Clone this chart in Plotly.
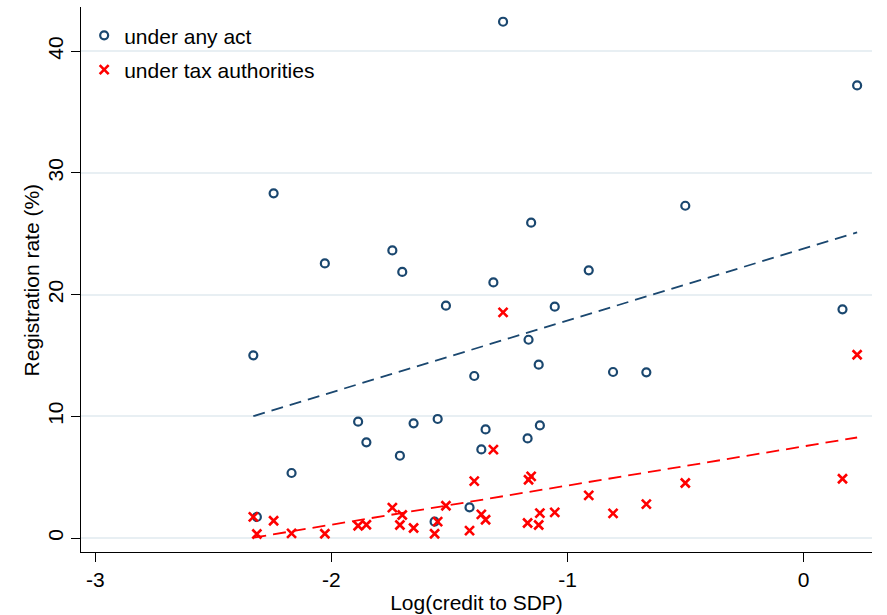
import numpy as np
import plotly.graph_objects as go

# Log of credit to state domestic product, one value per state
log_credit = [
    -2.331, -2.316, -2.245, -2.169, -2.028, -1.887, -1.852, -1.742,
    -1.710, -1.700, -1.652, -1.563, -1.550, -1.515, -1.415, -1.395,
    -1.365, -1.347, -1.314, -1.273, -1.169, -1.165, -1.154, -1.122,
    -1.117, -1.054, -0.910, -0.807, -0.666, -0.501, 0.165, 0.227,
]

# Registration rate (%) under any act
reg_any_act = [
    15.01, 1.73, 28.32, 5.34, 22.56, 9.56, 7.86, 23.63,
    6.76, 21.86, 9.42, 1.34, 9.78, 19.09, 2.51, 13.31,
    7.28, 8.92, 21.00, 42.42, 8.18, 16.29, 25.91, 14.24,
    9.25, 19.01, 21.99, 13.64, 13.61, 27.30, 18.79, 37.19,
]

# Registration rate (%) under tax authorities
reg_tax = [
    1.73, 0.33, 1.42, 0.38, 0.35, 1.01, 1.09, 2.49,
    1.07, 1.89, 0.82, 0.35, 1.34, 2.65, 0.60, 4.68,
    1.94, 1.50, 7.26, 18.54, 1.23, 4.79, 5.06, 1.07,
    2.05, 2.10, 3.50, 2.02, 2.79, 4.52, 4.87, 15.06,
]

x_ticks = [-3, -2, -1, 0]
x_tick_text = ["-3", "-2", "-1", "0"]
y_ticks = [0, 10, 20, 30, 40]
y_tick_text = ["0", "10", "20", "30", "40"]

NAVY = "#1a476f"
RED = "#ff0000"
FONT = "Arial, 'Liberation Sans', Helvetica, sans-serif"

x = np.array(log_credit)


def linear_fit(yvals):
    slope, intercept = np.polyfit(x, np.array(yvals), 1)
    xs = np.array([x.min(), x.max()])
    return xs, intercept + slope * xs


fig = go.Figure()

fig.add_trace(go.Scatter(
    x=log_credit, y=reg_any_act, mode="markers", name="under any act",
    legendgroup="a",
    marker=dict(symbol="circle-open", size=8, color=NAVY,
                line=dict(color=NAVY, width=2.2)),
))
fig.add_trace(go.Scatter(
    x=log_credit, y=reg_tax, mode="markers", name="under tax authorities",
    legendgroup="b",
    marker=dict(symbol="x-thin-open", size=9, color=RED,
                line=dict(color=RED, width=2.6)),
))

fx, fy = linear_fit(reg_any_act)
fig.add_trace(go.Scatter(
    x=fx, y=fy, mode="lines", showlegend=False,
    line=dict(color=NAVY, width=1.8, dash="12px,7px"),
))
fx, fy = linear_fit(reg_tax)
fig.add_trace(go.Scatter(
    x=fx, y=fy, mode="lines", showlegend=False,
    line=dict(color=RED, width=1.8, dash="13px,7px"),
))

axis_common = dict(
    showline=True, linecolor="black", linewidth=1.2,
    ticks="outside", ticklen=9, tickwidth=1.2, tickcolor="black",
    tickfont=dict(family=FONT, size=21, color="black"),
    zeroline=False, mirror=False,
)

fig.update_layout(
    width=887, height=615,
    margin=dict(l=81, r=15, t=7, b=63),
    paper_bgcolor="white", plot_bgcolor="white",
    font=dict(family=FONT, size=21, color="black"),
    xaxis=dict(
        range=[-3.061, 0.290], tickvals=x_ticks, ticktext=x_tick_text,
        showgrid=False,
        title=dict(text="Log(credit to SDP)", standoff=1,
                   font=dict(family=FONT, size=21)),
        **axis_common,
    ),
    yaxis=dict(
        range=[-1.15, 43.63], tickvals=y_ticks, ticktext=y_tick_text,
        tickangle=-90,
        showgrid=True, gridcolor="#e8eff3", gridwidth=2,
        **axis_common,
    ),
    annotations=[dict(
        text="Registration rate (%)", textangle=-90,
        xref="paper", yref="paper", x=-0.062, y=0.5,
        xanchor="center", yanchor="middle", showarrow=False,
        font=dict(family=FONT, size=21, color="black"),
    )],
    legend=dict(
        x=0.004, y=0.985, xanchor="left", yanchor="top",
        bgcolor="rgba(0,0,0,0)", borderwidth=0,
        font=dict(family=FONT, size=21, color="black"),
        traceorder="grouped", tracegroupgap=4,
    ),
)

fig.write_html("out.html")
